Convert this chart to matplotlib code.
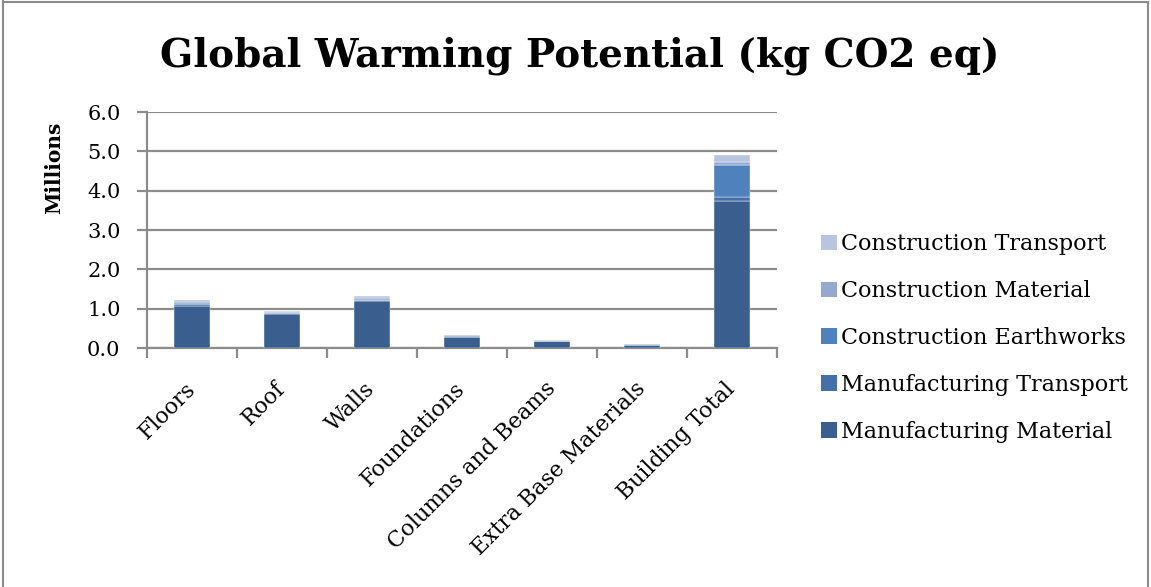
import matplotlib
matplotlib.use("Agg")
import matplotlib.pyplot as plt
from matplotlib.lines import Line2D
from matplotlib.patches import Patch
import numpy as np

plt.rcParams['font.family'] = ['DejaVu Serif']

categories = ["Floors", "Roof", "Walls", "Foundations", "Columns and Beams",
              "Extra Base Materials", "Building Total"]

# Values in millions of kg CO2 eq
manufacturing_material = [1.07, 0.87, 1.19, 0.28, 0.17, 0.08, 3.75]
manufacturing_transport = [0.04, 0.03, 0.04, 0.01, 0.01, 0.005, 0.08]
construction_earthworks = [0.00, 0.00, 0.00, 0.02, 0.00, 0.00, 0.83]
construction_material = [0.06, 0.02, 0.05, 0.01, 0.01, 0.005, 0.07]
construction_transport = [0.05, 0.02, 0.05, 0.01, 0.01, 0.01, 0.17]

series = [
    ("Manufacturing Material", manufacturing_material, "#3A5F8E"),
    ("Manufacturing Transport", manufacturing_transport, "#4470A8"),
    ("Construction Earthworks", construction_earthworks, "#4F81BD"),
    ("Construction Material", construction_material, "#95A8D0"),
    ("Construction Transport", construction_transport, "#B9C5E0"),
]

fig = plt.figure(figsize=(11.51, 5.87), dpi=100)
ax = fig.add_axes([147 / 1151, 1 - 348 / 587, 630 / 1151, 236 / 587])

x = np.arange(len(categories))
bottom = np.zeros(len(categories))
handles = []
for name, vals, color in series:
    vals = np.array(vals)
    ax.bar(x, vals, width=0.4, bottom=bottom, color=color,
           edgecolor="white", linewidth=0.3, zorder=3)
    bottom += vals
    handles.append(Patch(facecolor=color, edgecolor="none", label=name))

ax.set_xlim(-0.5, len(categories) - 0.5)
ax.set_ylim(0, 6)
ax.set_yticks(np.arange(0, 6.01, 1.0))
ax.set_yticklabels([f"{v:.1f}" for v in np.arange(0, 6.01, 1.0)], fontsize=15)
ax.yaxis.grid(True, color="#8C8C8C", linewidth=1.6, zorder=0)
ax.set_axisbelow(True)

ax.set_xticks(np.arange(-0.5, len(categories), 1.0), minor=False)
ax.set_xticklabels([])
ax.set_xticks(x, minor=True)
ax.set_xticklabels(categories, minor=True, rotation=45, ha="right",
                   va="center", rotation_mode="anchor", fontsize=15.8)
ax.tick_params(axis="x", which="minor", length=0, pad=27)
ax.tick_params(axis="x", which="major", length=7, width=1.6, color="#8C8C8C")
ax.tick_params(axis="y", length=7, width=1.6, color="#8C8C8C", pad=12)

for side in ["top", "right"]:
    ax.spines[side].set_visible(False)
for side in ["left", "bottom"]:
    ax.spines[side].set_color("#8C8C8C")
    ax.spines[side].set_linewidth(1.6)

ax.set_ylabel("Millions", fontsize=14.5, fontweight="bold")
ax.yaxis.set_label_coords((64 - 147) / 630, (348 - 168) / 236)

fig.text(580 / 1151, 1 - 56 / 587, "Global Warming Potential (kg CO2 eq)",
         ha="center", va="center", fontsize=28, fontweight="bold")

leg = fig.legend(handles=handles[::-1], loc="center left",
                 bbox_to_anchor=(801 / 1151, 1 - 338 / 587), frameon=False,
                 fontsize=16, handlelength=0.7, handleheight=0.7,
                 handletextpad=0.2, labelspacing=1.12)

# Chart border
for xs, ys in [([3, 3], [0, 587]), ([3, 1148], [2, 2]), ([1148, 1148], [2, 587])]:
    fig.add_artist(Line2D([v / 1151 for v in xs], [1 - v / 587 for v in ys],
                          color="#8C8C8C", linewidth=1.5))

fig.savefig("out.png", dpi=100)
